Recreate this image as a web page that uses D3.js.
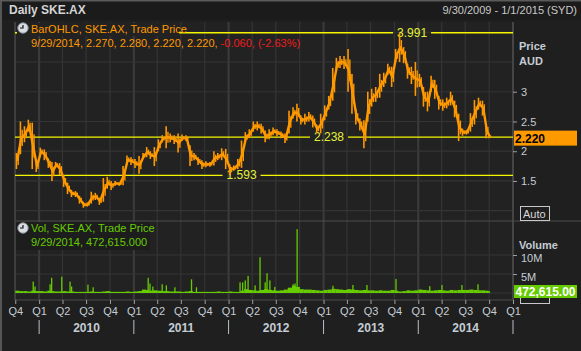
<!DOCTYPE html>
<html>
<head>
<meta charset="utf-8">
<script src="https://cdnjs.cloudflare.com/ajax/libs/d3/7.8.5/d3.min.js"></script>
<style>
  body { margin: 0; background: #1f1f1f; }
  svg { display: block; font-family: "Liberation Sans", Arial, sans-serif; }
</style>
</head>
<body>
<div id="chart"></div>
<script>
// half-month periods, high / low price (AUD) in each
var periods = [
  "2009-10-01","2009-10-16","2009-11-01","2009-11-16","2009-12-01","2009-12-16",
  "2010-01-01","2010-01-16","2010-02-01","2010-02-16","2010-03-01","2010-03-16","2010-04-01","2010-04-16",
  "2010-05-01","2010-05-16","2010-06-01","2010-06-16","2010-07-01","2010-07-16","2010-08-01","2010-08-16",
  "2010-09-01","2010-09-16","2010-10-01","2010-10-16","2010-11-01","2010-11-16","2010-12-01","2010-12-16",
  "2011-01-01","2011-01-16","2011-02-01","2011-02-16","2011-03-01","2011-03-16","2011-04-01","2011-04-16",
  "2011-05-01","2011-05-16","2011-06-01","2011-06-16","2011-07-01","2011-07-16","2011-08-01","2011-08-16",
  "2011-09-01","2011-09-16","2011-10-01","2011-10-16","2011-11-01","2011-11-16","2011-12-01","2011-12-16",
  "2012-01-01","2012-01-16","2012-02-01","2012-02-16","2012-03-01","2012-03-16","2012-04-01","2012-04-16",
  "2012-05-01","2012-05-16","2012-06-01","2012-06-16","2012-07-01","2012-07-16","2012-08-01","2012-08-16",
  "2012-09-01","2012-09-16","2012-10-01","2012-10-16","2012-11-01","2012-11-16","2012-12-01","2012-12-16",
  "2013-01-01","2013-01-16","2013-02-01","2013-02-16","2013-03-01","2013-03-16","2013-04-01","2013-04-16",
  "2013-05-01","2013-05-16","2013-06-01","2013-06-16","2013-07-01","2013-07-16","2013-08-01","2013-08-16",
  "2013-09-01","2013-09-16","2013-10-01","2013-10-16","2013-11-01","2013-11-16","2013-12-01","2013-12-16",
  "2014-01-01","2014-01-16","2014-02-01","2014-02-16","2014-03-01","2014-03-16","2014-04-01","2014-04-16",
  "2014-05-01","2014-05-16","2014-06-01","2014-06-16","2014-07-01","2014-07-16","2014-08-01","2014-08-16",
  "2014-09-01","2014-09-16","2014-09-29"
];
var priceHigh = [
  1.97,2.50,2.42,2.53,2.48,1.85,
  2.06,2.03,1.88,1.82,1.82,1.80,1.60,1.47,1.35,1.33,1.25,1.15,1.14,1.32,1.30,1.22,1.55,1.57,1.50,1.50,1.48,1.75,1.93,1.90,
  1.87,1.92,1.97,2.07,2.00,2.07,2.20,2.27,2.42,2.30,2.27,2.30,2.28,2.27,2.10,1.97,1.90,1.85,1.83,1.82,2.00,1.97,2.05,2.04,
  1.78,1.76,1.87,2.18,2.32,2.37,2.50,2.50,2.46,2.35,2.37,2.40,2.37,2.33,2.30,2.68,2.74,2.80,2.60,2.63,2.66,2.60,2.45,2.63,
  2.77,2.93,3.40,3.57,3.60,3.60,3.72,3.30,2.70,2.55,2.52,3.00,3.05,3.08,3.30,3.32,3.47,3.42,3.72,3.991,3.75,3.47,3.42,3.50,
  3.30,3.08,3.00,3.27,3.20,2.93,2.87,2.90,3.00,2.85,2.63,2.38,2.36,2.64,2.86,2.90,2.85,2.47,2.28
];
var priceLow = [
  1.70,1.95,2.15,2.33,1.70,1.65,
  1.93,1.85,1.72,1.50,1.73,1.60,1.40,1.28,1.23,1.23,1.12,1.05,1.07,1.12,1.18,1.10,1.15,1.37,1.35,1.42,1.42,1.43,1.78,1.77,
  1.72,1.62,1.87,1.90,1.87,1.75,2.00,2.15,2.05,2.15,2.12,1.98,2.17,2.17,1.75,1.85,1.77,1.70,1.73,1.74,1.76,1.85,1.85,1.70,
  1.60,1.67,1.70,1.72,2.15,2.22,2.33,2.35,2.30,2.15,2.20,2.27,2.25,2.22,2.14,2.30,2.55,2.50,2.45,2.45,2.50,2.40,2.30,2.30,
  2.52,2.70,2.85,3.35,3.40,3.38,3.00,2.63,2.45,2.35,2.05,2.50,2.75,2.83,2.90,3.08,3.28,3.08,3.50,3.50,3.48,3.22,3.13,2.93,
  3.08,2.75,2.67,3.00,2.88,2.70,2.68,2.72,2.77,2.57,2.17,2.26,2.28,2.33,2.45,2.70,2.60,2.22,2.22
];
// typical daily volume in each period (millions)
var volBase = [
  0.6,0.5,0.5,0.4,0.6,0.5,
  0.5,0.4,0.6,0.5,0.4,0.4,0.5,0.4,0.4,0.3,0.3,0.3,0.3,0.4,0.3,0.3,0.4,0.5,0.3,0.3,0.3,0.3,0.4,0.3,
  0.4,0.5,0.9,0.8,0.6,0.7,0.6,0.5,0.5,0.4,0.4,0.4,0.3,0.4,0.5,0.3,0.3,0.3,0.3,0.3,0.3,0.4,0.3,0.3,
  0.4,0.3,0.3,0.6,1.0,0.8,0.7,0.6,0.8,1.0,0.8,0.7,0.6,0.7,0.9,1.4,1.9,1.6,1.0,0.9,0.9,0.8,0.7,0.6,
  0.8,0.9,1.1,1.0,0.9,0.8,1.0,0.9,0.8,0.7,0.8,0.7,0.7,0.6,0.7,0.6,0.6,0.8,0.6,0.4,0.5,0.7,0.6,0.7,
  0.9,0.8,0.7,0.6,0.7,0.8,0.7,0.6,0.8,0.7,0.8,0.8,0.8,0.9,0.8,0.7,0.7,0.6,0.47
];
// single heavy-volume days (millions)
var spikeDates = [
  "2009-12-09","2009-12-16","2010-02-12","2010-02-18","2010-03-29","2010-04-30","2010-05-06","2010-07-08",
  "2010-07-28","2011-02-25","2011-03-04","2011-03-15","2011-04-20","2011-05-06","2011-06-08","2011-08-11",
  "2011-08-30","2012-02-14","2012-02-24","2012-03-05","2012-03-16","2012-04-12","2012-05-01","2012-05-21",
  "2012-05-28","2012-06-08","2012-06-27","2012-09-06","2012-09-13","2012-09-21","2013-02-06","2013-04-24",
  "2013-06-17","2013-10-07","2014-02-14","2014-04-02","2014-06-18","2014-08-19"
];
var spikeVols = [
  3.0,1.7,2.3,4.0,4.3,3.0,1.7,2.2,
  1.5,4.0,2.5,1.7,2.3,2.0,1.5,3.6,
  1.5,2.8,2.8,3.3,4.5,2.0,9.4,2.8,
  5.2,3.3,1.6,2.3,2.5,16.8,1.9,2.1,
  2.1,3.7,1.8,2.1,2.1,2.3
];
var levels = [3.991, 2.238, 1.593];
var levelDates = ["2013-12-08", "2013-01-22", "2012-02-20"];
var priceTicks = [1.5, 2, 2.5, 3];
var priceGrid = [1, 1.5, 2, 2.5, 3, 3.5, 4];
var volTicks = [5, 10];
var years = [2010, 2011, 2012, 2013, 2014];
var lastClose = 2.220;
var lastVol = "472,615.00";

var W = 581, H = 351;
var left = 15, right = 513;
var pTop = 22, pBot = 220, vTop = 222, vBot = 300;
var parse = d3.timeParse("%Y-%m-%d");

var svg = d3.select("#chart").append("svg")
    .attr("width", W)
    .attr("height", H);

svg.append("rect").attr("width", W).attr("height", H).attr("fill", "#1f1f1f");
svg.append("rect").attr("width", W).attr("height", 20).attr("fill", "#1b1b1b");
svg.append("rect").attr("x", left).attr("y", pTop).attr("width", right - left).attr("height", vBot - pTop)
    .attr("fill", "#222222");

var x = d3.scaleTime()
    .domain([new Date(2009, 8, 30), new Date(2015, 0, 1)])
    .range([left, right]);
var yP = d3.scaleLinear().domain([0.844, 4.172]).range([pBot, pTop]);
var yV = d3.scaleLinear().domain([0, 18.68]).range([293, vTop]);

var quarters = d3.timeMonth.every(3).range(new Date(2009, 9, 1), new Date(2015, 0, 2));

// grid
var grid = svg.append("g");
grid.selectAll(".vg").data(quarters).enter().append("line")
    .attr("x1", function (d) { return x(d); })
    .attr("x2", function (d) { return x(d); })
    .attr("y1", pTop).attr("y2", vBot)
    .attr("stroke", function (d) { return d.getMonth() == 0 ? "#3c3c3c" : "#343434"; })
    .attr("stroke-width", function (d) { return d.getMonth() == 0 ? 2 : 1.2; });
grid.selectAll(".hg").data(priceGrid).enter().append("line")
    .attr("x1", left).attr("x2", right)
    .attr("y1", function (d) { return yP(d); })
    .attr("y2", function (d) { return yP(d); })
    .attr("stroke", "#343434").attr("stroke-width", 1.2);
grid.selectAll(".hv").data([0].concat(volTicks)).enter().append("line")
    .attr("x1", left).attr("x2", right)
    .attr("y1", function (d) { return yV(d); })
    .attr("y2", function (d) { return yV(d); })
    .attr("stroke", "#343434").attr("stroke-width", 1.2);

// frame
var frame = svg.append("g").attr("stroke", "#4c4c4c").attr("stroke-width", 1.2);
frame.append("line").attr("x1", left).attr("x2", left).attr("y1", pTop).attr("y2", vBot);
frame.append("line").attr("x1", right).attr("x2", right).attr("y1", pTop).attr("y2", vBot);
frame.append("line").attr("x1", left).attr("x2", W).attr("y1", 221).attr("y2", 221);
frame.append("line").attr("x1", left).attr("x2", right).attr("y1", vBot).attr("y2", vBot);
svg.append("rect").attr("x", 0).attr("y", 0).attr("width", 2).attr("height", H).attr("fill", "#565656");
svg.append("rect").attr("x", 0).attr("y", 0).attr("width", W).attr("height", 1.5).attr("fill", "#5a5a5a");

// level lines with labels
levels.forEach(function (v, i) {
    var cx = x(parse(levelDates[i]));
    var yy = yP(v);
    var g = svg.append("g");
    g.append("line").attr("x1", left).attr("x2", cx - 19).attr("y1", yy).attr("y2", yy)
        .attr("stroke", "#f5f500").attr("stroke-width", 1.3);
    g.append("line").attr("x1", cx + 19).attr("x2", right).attr("y1", yy).attr("y2", yy)
        .attr("stroke", "#f5f500").attr("stroke-width", 1.3);
    g.append("text").attr("x", cx).attr("y", yy + 4).attr("text-anchor", "middle")
        .attr("font-size", "12px").attr("fill", "#e4f03a").text(v.toFixed(3));
});

// price: high-low bars plus a path through the bar midpoints
var dates = periods.map(parse);
function midX(d, i) {
    return i < dates.length - 1 ? (x(d) + x(dates[i + 1])) / 2 : x(d) + 1;
}
var price = svg.append("g");
price.append("path")
    .datum(dates)
    .attr("fill", "none")
    .attr("stroke", "#ff9900")
    .attr("stroke-width", 2.4)
    .attr("stroke-linejoin", "round")
    .attr("d", d3.line()
        .x(function (d, i) { return midX(d, i); })
        .y(function (d, i) { return yP((priceHigh[i] + priceLow[i]) / 2); }));
price.selectAll("line").data(dates).enter().append("line")
    .attr("x1", function (d, i) { return midX(d, i) - 0.8; })
    .attr("x2", function (d, i) { return midX(d, i) - 0.8; })
    .attr("y1", function (d, i) { return yP(priceHigh[i]); })
    .attr("y2", function (d, i) { return yP(priceLow[i]); })
    .attr("stroke", "#ff9900").attr("stroke-width", 1.6);
price.selectAll(".b2").data(dates).enter().append("line")
    .attr("x1", function (d, i) { return midX(d, i) + 1; })
    .attr("x2", function (d, i) { return midX(d, i) + 1; })
    .attr("y1", function (d, i) { return yP(priceHigh[i] - (priceHigh[i] - priceLow[i]) * 0.25); })
    .attr("y2", function (d, i) { return yP(priceLow[i] + (priceHigh[i] - priceLow[i]) * 0.25); })
    .attr("stroke", "#ff9900").attr("stroke-width", 1.4);

// volume
var vol = svg.append("g").attr("fill", "#66cc00");
vol.selectAll(".vb").data(dates).enter().append("rect")
    .attr("x", function (d) { return x(d); })
    .attr("width", function (d, i) {
        return i < dates.length - 1 ? x(dates[i + 1]) - x(d) + 0.2 : 1.5;
    })
    .attr("y", function (d, i) { return yV(volBase[i]); })
    .attr("height", function (d, i) { return yV(0) - yV(volBase[i]); });
vol.selectAll(".vs").data(spikeDates).enter().append("rect")
    .attr("x", function (d) { return x(parse(d)) - 0.6; })
    .attr("width", 1.3)
    .attr("y", function (d, i) { return yV(spikeVols[i]); })
    .attr("height", function (d, i) { return yV(0) - yV(spikeVols[i]); });

// legends
function clockIcon(cx, cy) {
    svg.append("circle").attr("cx", cx).attr("cy", cy).attr("r", 5.2)
        .attr("fill", "#d8dde3").attr("stroke", "#8a9098").attr("stroke-width", 1);
    svg.append("path").attr("d", "M" + cx + "," + (cy - 3) + "V" + cy + "H" + (cx - 3))
        .attr("stroke", "#111").attr("stroke-width", 1.2).attr("fill", "none");
}
svg.append("rect").attr("x", 17).attr("y", 23).attr("width", 162).attr("height", 13).attr("fill", "#222222");
clockIcon(23, 28);
svg.append("text").attr("x", 31).attr("y", 33).attr("font-size", "11px").attr("fill", "#ff9900")
    .text("BarOHLC, SKE.AX, Trade Price");
var l2 = svg.append("text").attr("x", 31).attr("y", 47).attr("font-size", "11px");
l2.append("tspan").attr("fill", "#ff9900").text("9/29/2014, 2.270, 2.280, 2.220, 2.220, ");
l2.append("tspan").attr("fill", "#ee1c1c").text("-0.060, (-2.63%)");

svg.append("rect").attr("x", 16).attr("y", 222).attr("width", 134).attr("height", 28).attr("fill", "#1d1d1d");
clockIcon(23, 228);
svg.append("text").attr("x", 31).attr("y", 232).attr("font-size", "11px").attr("fill", "#66cc00")
    .text("Vol, SKE.AX, Trade Price");
svg.append("text").attr("x", 31).attr("y", 246).attr("font-size", "11px").attr("fill", "#66cc00")
    .text("9/29/2014, " + lastVol + "0");

// header
svg.append("text").attr("x", 9).attr("y", 14).attr("font-size", "12px").attr("font-weight", "bold")
    .attr("fill", "#d4d4d4").text("Daily SKE.AX");
svg.append("text").attr("x", 577).attr("y", 14).attr("font-size", "11px").attr("text-anchor", "end")
    .attr("fill", "#c8c8c8").text("9/30/2009 - 1/1/2015 (SYD)");

// right axes
var axisColor = "#c4ccd4";
var pAxis = svg.append("g").attr("transform", "translate(" + right + ",0)")
    .call(d3.axisRight(yP).tickValues(priceTicks).tickSize(4).tickPadding(4)
        .tickFormat(function (d) { return d; }));
var vAxis = svg.append("g").attr("transform", "translate(" + right + ",0)")
    .call(d3.axisRight(yV).tickValues(volTicks).tickSize(4).tickPadding(4)
        .tickFormat(function (d) { return d + "M"; }));
[pAxis, vAxis].forEach(function (a) {
    a.select(".domain").remove();
    a.selectAll("line").attr("stroke", "#9aa0a8");
    a.selectAll("text").attr("fill", axisColor).attr("font-size", "11px")
        .attr("font-family", "Liberation Sans, Arial, sans-serif");
});
vAxis.selectAll("text").attr("dy", "0.62em");
svg.append("text").attr("x", 519).attr("y", 50).attr("font-size", "11px").attr("font-weight", "bold")
    .attr("fill", axisColor).text("Price");
svg.append("text").attr("x", 519).attr("y", 65).attr("font-size", "11px").attr("font-weight", "bold")
    .attr("fill", axisColor).text("AUD");
svg.append("text").attr("x", 519).attr("y", 249).attr("font-size", "11px").attr("font-weight", "bold")
    .attr("fill", axisColor).text("Volume");
svg.append("rect").attr("x", 520.5).attr("y", 206.5).attr("width", 29).attr("height", 14)
    .attr("fill", "none").attr("stroke", "#c8c8c8");
svg.append("text").attr("x", 523).attr("y", 218).attr("font-size", "11px").attr("fill", "#d8d8d8").text("Auto");
svg.append("rect").attr("x", 520.5).attr("y", 293.5).attr("width", 29).attr("height", 10)
    .attr("fill", "none").attr("stroke", "#c8c8c8");

// last value tags
svg.append("rect").attr("x", 514).attr("y", yP(lastClose) - 7.5).attr("width", 63).attr("height", 15)
    .attr("fill", "#ff9900");
svg.append("text").attr("x", 515).attr("y", yP(lastClose) + 4.5).attr("font-size", "12px")
    .attr("font-weight", "bold").attr("fill", "#000").text(lastClose.toFixed(3));
svg.append("rect").attr("x", 514).attr("y", 285).attr("width", 63).attr("height", 13).attr("fill", "#66cc00");
svg.append("text").attr("x", 545.5).attr("y", 296).attr("font-size", "12px").attr("text-anchor", "middle")
    .attr("font-weight", "bold").attr("fill", "#fff").text(lastVol);

// bottom axis: quarters
var xAxis = svg.append("g").attr("transform", "translate(0," + vBot + ")")
    .call(d3.axisBottom(x).tickValues(quarters).tickSize(4).tickPadding(3)
        .tickFormat(function (d) { return "Q" + (Math.floor(d.getMonth() / 3) + 1); }));
xAxis.select(".domain").remove();
xAxis.selectAll("line").attr("stroke", "#9aa0a8");
xAxis.selectAll("text").attr("fill", axisColor).attr("font-size", "11px")
    .attr("font-family", "Liberation Sans, Arial, sans-serif");

// year labels and separators
var yearG = svg.append("g");
yearG.selectAll("line").data(years.concat([2015])).enter().append("line")
    .attr("x1", function (d) { return x(new Date(d, 0, 1)); })
    .attr("x2", function (d) { return x(new Date(d, 0, 1)); })
    .attr("y1", 320).attr("y2", 334)
    .attr("stroke", "#b8c0c8").attr("stroke-width", 1);
yearG.selectAll("text").data(years).enter().append("text")
    .attr("x", function (d) { return (x(new Date(d, 0, 1)) + x(new Date(d + 1, 0, 1))) / 2; })
    .attr("y", 332)
    .attr("text-anchor", "middle")
    .attr("font-size", "12px").attr("font-weight", "bold")
    .attr("fill", axisColor)
    .text(function (d) { return d; });
</script>
</body>
</html>
